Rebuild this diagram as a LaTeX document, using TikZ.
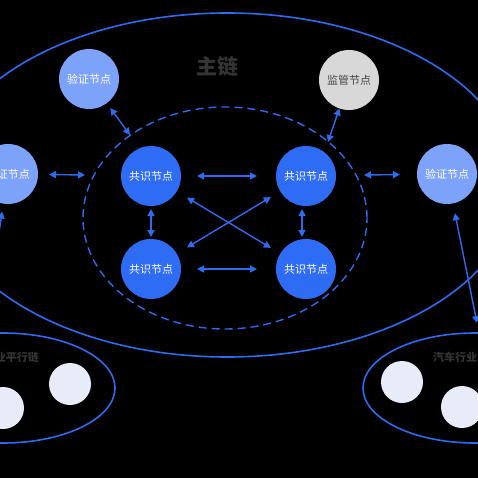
\documentclass[tikz,border=0pt]{standalone}
\usepackage{fontspec}
\setmainfont{Noto Sans CJK SC}
\usetikzlibrary{arrows.meta}
\definecolor{lineblue}{RGB}{47,107,240}
\definecolor{consblue}{RGB}{46,108,246}
\definecolor{valblue}{RGB}{125,162,249}
\definecolor{supgray}{RGB}{216,216,216}
\definecolor{palecirc}{RGB}{232,236,248}
\definecolor{titlegray}{RGB}{52,52,52}
\definecolor{suptext}{RGB}{70,70,70}
\tikzset{
  consnode/.style={circle,fill=consblue,minimum size=60pt,inner sep=0pt,text=white,font=\fontsize{11}{13}\selectfont},
  valnode/.style={circle,fill=valblue,minimum size=60pt,inner sep=0pt,text=white,font=\fontsize{11}{13}\selectfont},
  supnode/.style={circle,fill=supgray,minimum size=60pt,inner sep=0pt,text=suptext,font=\fontsize{11}{13}\selectfont},
  palenode/.style={circle,fill=palecirc,minimum size=42pt,inner sep=0pt},
  biarrow/.style={lineblue,line width=1.4pt,{Triangle[length=7pt,width=7pt]}-{Triangle[length=7pt,width=7pt]}},
  chainline/.style={lineblue,line width=1.6pt},
  sidelabel/.style={text=titlegray,font=\fontsize{11}{13}\selectfont\bfseries,inner sep=0pt}
}
\begin{document}
\begin{tikzpicture}[x=1pt,y=-1pt]
\fill[black] (0,0) rectangle (478,478);
\useasboundingbox (0,0) rectangle (478,478);
\clip (0,0) rectangle (478,478);
% main chain ellipse
\draw[chainline] (227,185) ellipse [x radius=289pt, y radius=172pt];
% dashed inner ellipse
\draw[chainline,line width=1.4pt,dash pattern=on 8pt off 5pt] (225,218) ellipse [x radius=142pt, y radius=111pt];
% side ellipses
\draw[chainline] (3,388) ellipse [x radius=112pt, y radius=55pt];
\draw[chainline] (475,388) ellipse [x radius=112pt, y radius=55pt];
% title
\node[text=titlegray,font=\fontsize{21}{24}\selectfont\bfseries] (title) at (217,67) {主链};
% nodes
\node[consnode] (c1) at (151,176) {共识节点};
\node[consnode] (c2) at (306,176) {共识节点};
\node[consnode] (c3) at (151,269) {共识节点};
\node[consnode] (c4) at (306,269) {共识节点};
\node[valnode] (v1) at (89,79) {验证节点};
\node[valnode] (v2) at (8,174) {验证节点};
\node[valnode] (v3) at (447,174) {验证节点};
\node[supnode] (s1) at (349,80) {监管节点};
% side chain labels and members
\node[sidelabel,anchor=east] (lt) at (39,357) {业平行链};
\node[sidelabel,anchor=west] (rt) at (433,357) {汽车行业};
\node[palenode] (p1) at (70,384) {};
\node[palenode] (p2) at (3,408) {};
\node[palenode] (p3) at (402,382) {};
\node[palenode] (p4) at (462,407) {};
% free ends
\coordinate (e1) at (130,135);
\coordinate (e2) at (328,142);
\coordinate (e3) at (85,175);
\coordinate (e4) at (364,175);
\coordinate (e5) at (477,323);
\coordinate (e6) at (-15,323);
% arrows
\draw[biarrow,shorten <=46pt,shorten >=49pt] (c1.center) -- (c2.center);
\draw[biarrow,shorten <=46pt,shorten >=49pt] (c3.center) -- (c4.center);
\draw[biarrow,shorten <=33pt,shorten >=32pt] (c1.center) -- (c3.center);
\draw[biarrow,shorten <=33pt,shorten >=32pt] ([xshift=-4pt]c2.center) -- ([xshift=-4pt]c4.center);
\draw[biarrow,shorten <=42pt,shorten >=41pt] (c1.center) -- (c4.center);
\draw[biarrow,shorten <=42pt,shorten >=41pt] (c3.center) -- (c2.center);
\draw[biarrow,shorten <=36pt] (v1.center) -- (e1);
\draw[biarrow,shorten <=30pt] (s1.center) -- (e2);
\draw[biarrow,shorten <=41pt] (v2.center) -- (e3);
\draw[biarrow,shorten <=47pt] (v3.center) -- (e4);
\draw[biarrow,shorten <=40pt] (v3.center) -- (e5);
\draw[biarrow,shorten <=38pt] (v2.center) -- (e6);
\end{tikzpicture}
\end{document}
